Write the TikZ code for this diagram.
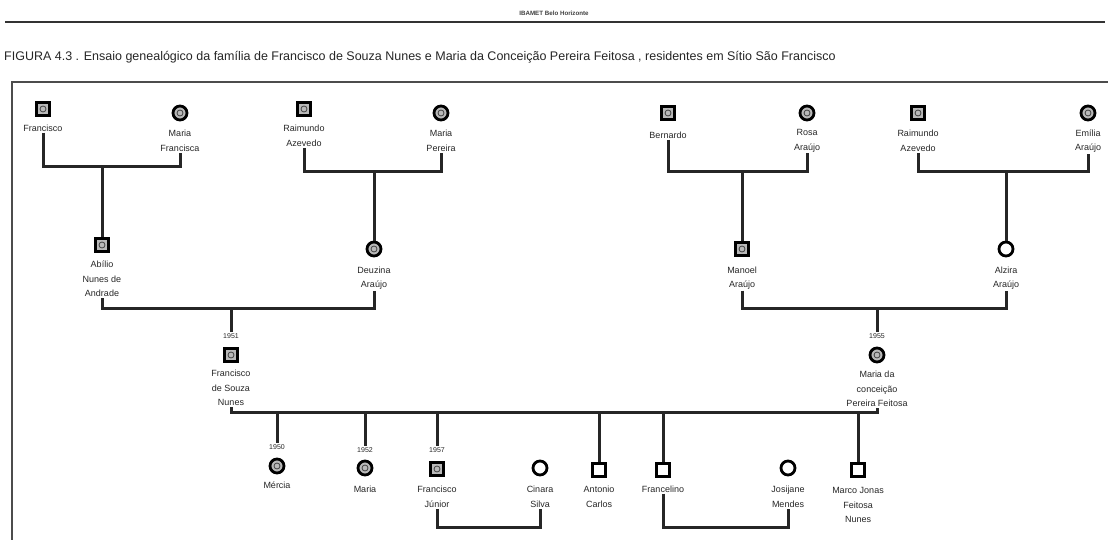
\documentclass[tikz,border=0pt]{standalone}
\usepackage{fontspec}
\setmainfont{Liberation Sans}
\newcommand{\lblfont}{\fontsize{9}{14.5}\selectfont}
\newcommand{\yrfont}{\fontsize{7}{8}\selectfont}
\newcommand{\capfont}{\fontsize{12.5}{14}\selectfont}
\newcommand{\hdrfont}{\fontsize{6.2}{7}\selectfont\bfseries}
\tikzset{
  male/.style={rectangle, draw=black, line width=2.8pt, minimum size=13pt, inner sep=0pt, fill=white},
  female/.style={circle, draw=black, line width=2.8pt, minimum size=14pt, inner sep=0pt, fill=white},
  mk/.style={fill=gray!55, path picture={\draw[black!75,line width=0.8pt] (path picture bounding box.center) circle (3pt);}},
  lbl/.style={align=center, font=\lblfont, inner sep=1pt, text=black!85},
  yr/.style={font=\yrfont, inner sep=1pt, text=black!85},
  rel/.style={draw=black!85, line width=3pt},
  frame/.style={draw=black!70, line width=1.2pt},
}
\begin{document}
\begin{tikzpicture}[x=1pt,y=-1pt]
\useasboundingbox (0,0) rectangle (1108,540);
% header
\node[font=\hdrfont, text=black!75] (hdr) at (554,13) {IBAMET Belo Horizonte};
\draw[draw=black!80, line width=1.8pt] (5,22) -- (1105,22);
\node[font=\capfont, anchor=west, inner sep=0pt, text=black!85] (cap) at (4,57) {FIGURA 4.3 . Ensaio genealógico da família de Francisco de Souza Nunes e Maria da Conceição Pereira Feitosa , residentes em Sítio São Francisco};
% frame
\draw[frame] (12,545) -- (12,82) -- (1108,82);

% generation 1
\node[male,mk] (fr) at (43,109) {};
\node[lbl] (fr-l) at (43,128) {Francisco};
\node[female,mk] (maf) at (180,113) {};
\node[lbl] (maf-l) at (180,141) {Maria\\Francisca};
\node[male,mk] (ra1) at (304,109) {};
\node[lbl] (ra1-l) at (304,136) {Raimundo\\Azevedo};
\node[female,mk] (mp) at (441,113) {};
\node[lbl] (mp-l) at (441,141) {Maria\\Pereira};
\node[male,mk] (be) at (668,113) {};
\node[lbl] (be-l) at (668,135) {Bernardo};
\node[female,mk] (ro) at (807,113) {};
\node[lbl] (ro-l) at (807,141) {Rosa\\Araújo};
\node[male,mk] (ra2) at (918,113) {};
\node[lbl] (ra2-l) at (918,141) {Raimundo\\Azevedo};
\node[female,mk] (em) at (1088,113) {};
\node[lbl] (em-l) at (1088,141) {Emília\\Araújo};

% generation 2
\node[male,mk] (ab) at (102,245) {};
\node[lbl] (ab-l) at (102,279) {Abílio\\Nunes de\\Andrade};
\node[female,mk] (de) at (374,249) {};
\node[lbl] (de-l) at (374,278) {Deuzina\\Araújo};
\node[male,mk] (ma) at (742,249) {};
\node[lbl] (ma-l) at (742,278) {Manoel\\Araújo};
\node[female] (al) at (1006,249) {};
\node[lbl] (al-l) at (1006,278) {Alzira\\Araújo};

\coordinate (c1) at (102,167);
\coordinate (c2) at (374,172);
\coordinate (c3) at (742,172);
\coordinate (c4) at (1006,172);
\draw[rel] (fr-l.south) |- (c1) -| (maf-l.south);
\draw[rel] (c1) -- (ab.north);
\draw[rel] (ra1-l.south) |- (c2) -| (mp-l.south);
\draw[rel] (c2) -- (de.north);
\draw[rel] (be-l.south) |- (c3) -| (ro-l.south);
\draw[rel] (c3) -- (ma.north);
\draw[rel] (ra2-l.south) |- (c4) -| (em-l.south);
\draw[rel] (c4) -- (al.north);

% parents
\node[yr] (y51) at (231,336) {1951};
\node[male,mk] (fsn) at (231,355) {};
\node[lbl] (fsn-l) at (231,388) {Francisco\\de Souza\\Nunes};
\node[yr] (y55) at (877,336) {1955};
\node[female,mk] (mc) at (877,355) {};
\node[lbl] (mc-l) at (877,389) {Maria da\\conceição\\Pereira Feitosa};

\coordinate (c5) at (231,308);
\coordinate (c6) at (877,308);
\draw[rel] (ab-l.south) |- (c5) -| (de-l.south);
\draw[rel] (c5) -- (y51.north);
\draw[rel] (ma-l.south) |- (c6) -| (al-l.south);
\draw[rel] (c6) -- (y55.north);

% generation 3
\coordinate (c7) at (554,412);
\draw[rel] (fsn-l.south) |- (c7) -| (mc-l.south);

\node[yr] (y50) at (277,447) {1950};
\node[female,mk] (me) at (277,466) {};
\node[lbl] (me-l) at (277,485) {Mércia};
\node[yr] (y52) at (365,450) {1952};
\node[female,mk] (mr) at (365,468) {};
\node[lbl] (mr-l) at (365,489) {Maria};
\node[yr] (y57) at (437,450) {1957};
\node[male,mk] (fj) at (437,469) {};
\node[lbl] (fj-l) at (437,497) {Francisco\\Júnior};
\node[female] (ci) at (540,468) {};
\node[lbl] (ci-l) at (540,497) {Cinara\\Silva};
\node[male] (an) at (599,470) {};
\node[lbl] (an-l) at (599,497) {Antonio\\Carlos};
\node[male] (fc) at (663,470) {};
\node[lbl] (fc-l) at (663,489) {Francelino};
\node[female] (jo) at (788,468) {};
\node[lbl] (jo-l) at (788,497) {Josijane\\Mendes};
\node[male] (mj) at (858,470) {};
\node[lbl] (mj-l) at (858,505) {Marco Jonas\\Feitosa\\Nunes};

\draw[rel] (y50.north |- c7) -- (y50.north);
\draw[rel] (y52.north |- c7) -- (y52.north);
\draw[rel] (y57.north |- c7) -- (y57.north);
\draw[rel] (an.north |- c7) -- (an.north);
\draw[rel] (fc.north |- c7) -- (fc.north);
\draw[rel] (mj.north |- c7) -- (mj.north);

\coordinate (c8) at (488,527);
\coordinate (c9) at (725,527);
\draw[rel] (fj-l.south) |- (c8) -| (ci-l.south);
\draw[rel] (fc-l.south) |- (c9) -| (jo-l.south);
\end{tikzpicture}
\end{document}
